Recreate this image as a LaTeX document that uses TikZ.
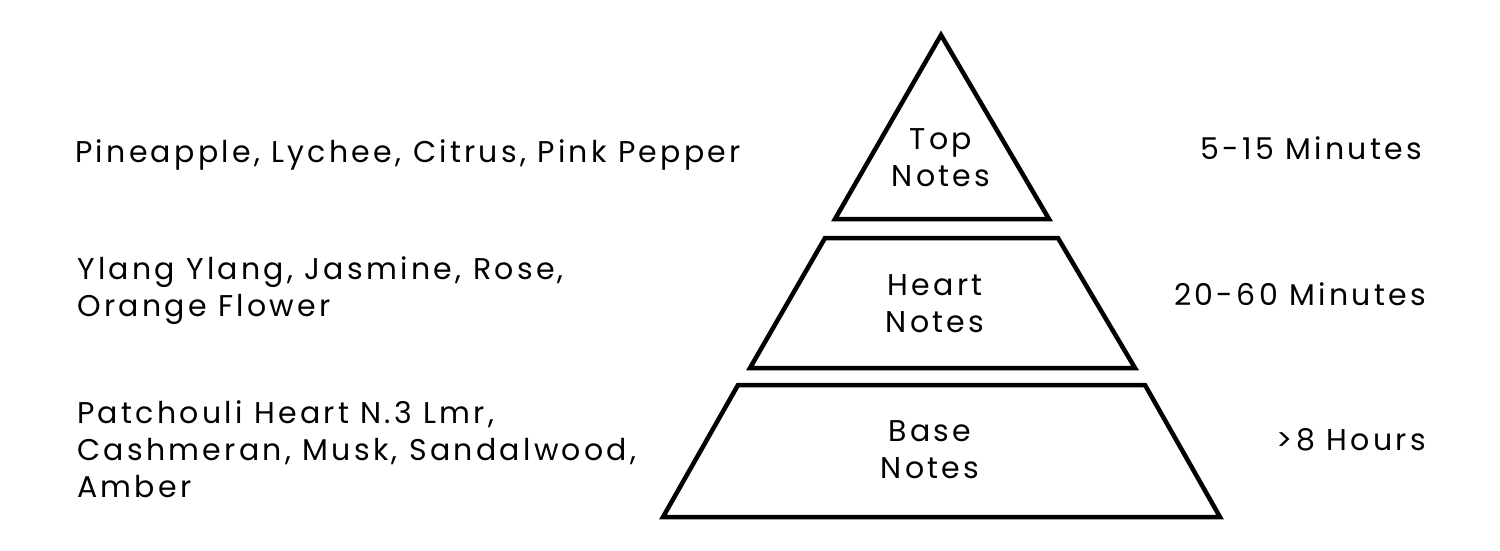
\documentclass[tikz,border=0pt]{standalone}
\usepackage{fontspec}
\setmainfont[LetterSpace=11]{Poppins}
\begin{document}
\begin{tikzpicture}[x=1pt,y=-1pt,
  layer/.style={draw=black,line width=4.5pt,line join=miter,fill=white},
  txt/.style={font=\fontsize{30}{37}\selectfont,inner sep=0pt,align=left},
  ctr/.style={font=\fontsize{30}{37}\selectfont,inner sep=0pt,align=center}]
\useasboundingbox (0,0) rectangle (1500,550);
% pyramid layers
\draw[layer] (941,35) -- (1049,219) -- (835,219) -- cycle;
\draw[layer] (825,238) -- (1058,238) -- (1135,368) -- (750,368) -- cycle;
\draw[layer] (738,385) -- (1145,385) -- (1220,517) -- (663,517) -- cycle;
% pyramid labels
\node[ctr] (top) at (941,158) {Top\\Notes};
\node[ctr] (heart) at (935,304) {Heart\\Notes};
\node[ctr] (base) at (930,450) {Base\\Notes};
% ingredients
\node[txt,anchor=west] (ltop) at (75,155) {Pineapple, Lychee, Citrus, Pink Pepper};
\node[txt,anchor=west] (lheart) at (77,291) {Ylang Ylang, Jasmine, Rose,\\Orange Flower};
\node[txt,anchor=west] (lbase) at (77,449) {Patchouli Heart N.3 Lmr,\\Cashmeran, Musk, Sandalwood,\\Amber};
% durations
\node[txt,anchor=east] (rtop) at (1422,148) {5-15 Minutes};
\node[txt,anchor=east] (rheart) at (1426,294) {20-60 Minutes};
\node[txt,anchor=east] (rbase) at (1426,440) {>8 Hours};
\end{tikzpicture}
\end{document}
